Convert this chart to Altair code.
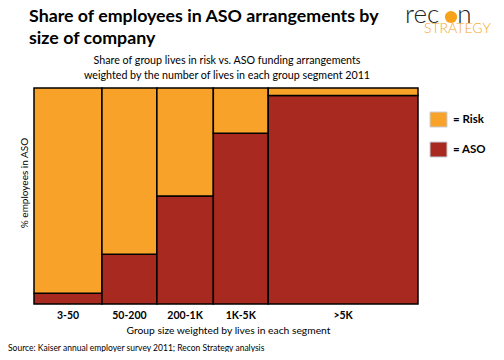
import altair as alt
import pandas as pd

# ---- data ----
segments = ["3-50", "50-200", "200-1K", "1K-5K", ">5K"]
widths = [17.7, 14.3, 14.7, 14.3, 39.0]      # share of lives (%)
aso_share = [5.0, 23.0, 50.0, 79.0, 96.5]    # % employees in ASO

title_lines = ["Share of employees in ASO arrangements by", "size of company"]
subtitle_lines = ["Share of group lives in risk vs. ASO funding arrangements",
                  "weighted by the number of lives in each group segment 2011"]
x_title = "Group size weighted by lives in each segment"
y_title = "% employees in ASO"
source = "Source: Kaiser annual employer survey 2011; Recon Strategy analysis"
legend_labels = ["= Risk", "= ASO"]

ORANGE = "#F9A229"
RED = "#A8291F"
FONT = "Lato"

# ---- build table ----
rows = []
mids = []
start = 0.0
for seg, w, a in zip(segments, widths, aso_share):
    end = start + w
    rows.append({"seg": seg, "type": "ASO", "x0": start, "x1": end, "y0": 0.0, "y1": a})
    rows.append({"seg": seg, "type": "Risk", "x0": start, "x1": end, "y0": a, "y1": 100.0})
    mids.append({"seg": seg, "mid": (start + end) / 2})
    start = end
df = pd.DataFrame(rows)
mid_df = pd.DataFrame(mids)

xs = alt.Scale(domain=[0, 100], nice=False, zero=False)
ys = alt.Scale(domain=[0, 100], nice=False, zero=False)

bars = alt.Chart(df).mark_rect(stroke="black", strokeWidth=1.5).encode(
    x=alt.X("x0:Q", scale=xs, axis=None),
    x2="x1:Q",
    y=alt.Y("y0:Q", scale=ys, axis=None),
    y2="y1:Q",
    color=alt.Color("type:N", scale=alt.Scale(domain=["Risk", "ASO"], range=[ORANGE, RED]), legend=None),
)

xlabels = alt.Chart(mid_df).mark_text(font=FONT, fontSize=10.5, fontWeight="bold",
                                      baseline="alphabetic", color="black").encode(
    x=alt.X("mid:Q", scale=xs, axis=None),
    y=alt.value(231),
    text="seg:N",
)


def txt(lines, x, y, size, weight="normal", align="left", color="black", angle=0, lh=None, baseline="alphabetic"):
    kw = dict(font=FONT, fontSize=size, fontWeight=weight, align=align, color=color,
              baseline=baseline, lineBreak="\n")
    if angle:
        kw["angle"] = angle
    if lh:
        kw["lineHeight"] = lh
    return alt.Chart(pd.DataFrame({"t": ["\n".join(lines)]})).mark_text(**kw).encode(
        x=alt.value(x), y=alt.value(y), text="t:N")


title = txt(title_lines, -5, -66, 17.8, weight="bold", lh=22)
subtitle = txt(subtitle_lines, 193, -24, 10.7, align="center", lh=15)
xtitle = txt([x_title], 194.5, 246, 10.3, align="center")
ytitle = txt([y_title], -9, 95, 10, align="center", angle=270, baseline="middle")
src = txt([source], -26, 262.5, 8.5)

logo1 = txt(["rec"], 371, -65, 26, weight=300, color="#222222")
logo2 = txt(["n"], 437.5, -65, 26, weight=300, color="#222222", align="right")
logo_sun = alt.Chart(pd.DataFrame({"a": [1]})).mark_circle(color="#F7A21B", opacity=1, size=150).encode(
    x=alt.value(417), y=alt.value(-71))
logo3 = txt(["STRATEGY"], 390, -55, 14, weight=300, color="#F5A623")

leg_df = pd.DataFrame({"type": ["Risk", "ASO"], "label": legend_labels,
                       "y0": [24, 54], "y1": [39, 69]})
leg_boxes = alt.Chart(leg_df).mark_rect(stroke="#C8D0D8", strokeWidth=1).encode(
    x=alt.value(396), x2=alt.value(413),
    y=alt.Y("y0:Q", scale=None), y2="y1:Q",
    color=alt.Color("type:N", scale=alt.Scale(domain=["Risk", "ASO"], range=[ORANGE, RED]), legend=None),
)
leg_text = alt.Chart(leg_df).mark_text(font=FONT, fontSize=11.5, fontWeight="bold", align="left",
                                       baseline="middle", color="black").encode(
    x=alt.value(419), y=alt.Y("ym:Q", scale=None), text="label:N",
).transform_calculate(ym="datum.y0 + 8")

chart = alt.layer(bars, xlabels, title, subtitle, xtitle, ytitle, src,
                  logo1, logo2, logo_sun, logo3, leg_boxes, leg_text).properties(
    width=384, height=216,
    autosize=alt.AutoSizeParams(type="none"),
    padding={"left": 26, "top": 80, "right": 78, "bottom": 48},
    background="white",
).configure_view(stroke=None)

chart.save("out.html", embed_options={"renderer": "svg", "actions": False})
